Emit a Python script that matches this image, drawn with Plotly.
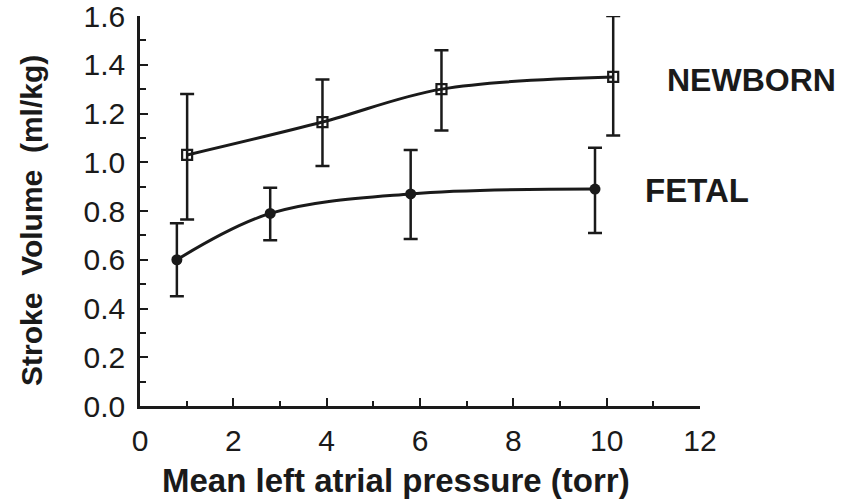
import plotly.graph_objects as go

# Newborn series
newborn_x = [1.01, 3.91, 6.46, 10.14]
newborn_y = [1.03, 1.165, 1.30, 1.35]
newborn_hi = [1.28, 1.34, 1.46, 1.60]
newborn_lo = [0.765, 0.985, 1.13, 1.11]

# Fetal series
fetal_x = [0.79, 2.79, 5.80, 9.75]
fetal_y = [0.60, 0.79, 0.87, 0.89]
fetal_hi = [0.75, 0.895, 1.05, 1.06]
fetal_lo = [0.45, 0.68, 0.685, 0.71]

x_ticks = [0, 2, 4, 6, 8, 10, 12]
y_ticks = [0.0, 0.2, 0.4, 0.6, 0.8, 1.0, 1.2, 1.4, 1.6]
y_tick_text = ["0.0", "0.2", "0.4", "0.6", "0.8", "1.0", "1.2", "1.4", "1.6"]

FONT = "Liberation Sans, Arial, Helvetica, sans-serif"
INK = "#1a1a1a"


def err(y, hi, lo):
    return dict(type="data", symmetric=False,
                array=[h - v for h, v in zip(hi, y)],
                arrayminus=[v - l for v, l in zip(y, lo)],
                color=INK, thickness=2.5, width=7)


fig = go.Figure()
fig.add_trace(go.Scatter(
    x=newborn_x, y=newborn_y, mode="lines+markers", name="NEWBORN",
    line=dict(color=INK, width=3, shape="spline", smoothing=1.0),
    marker=dict(symbol="square-open", size=10, color=INK, line=dict(width=2.2)),
    error_y=err(newborn_y, newborn_hi, newborn_lo), cliponaxis=False,
))
fig.add_trace(go.Scatter(
    x=fetal_x, y=fetal_y, mode="lines+markers", name="FETAL",
    line=dict(color=INK, width=3, shape="spline", smoothing=1.0),
    marker=dict(symbol="circle", size=11, color=INK),
    error_y=err(fetal_y, fetal_hi, fetal_lo), cliponaxis=False,
))

axis_common = dict(
    showline=True, linecolor=INK, linewidth=2.5, showgrid=False,
    zeroline=False, ticks="inside", tickcolor=INK, tickwidth=2,
    tickfont=dict(family=FONT, size=30, color=INK),
    ticklabeloverflow="allow", automargin=False,
)

fig.update_xaxes(range=[0, 12], tickvals=x_ticks, ticklen=8,
                 minor=dict(dtick=1, ticks="inside", ticklen=5, tickwidth=2, tickcolor=INK),
                 ticklabelstandoff=6, **axis_common)
fig.update_yaxes(range=[0, 1.6], tickvals=y_ticks, ticktext=y_tick_text, ticklen=8,
                 minor=dict(dtick=0.1, ticks="inside", ticklen=6, tickwidth=2, tickcolor=INK),
                 ticklabelstandoff=6, **axis_common)

fig.add_annotation(x=11.25, y=1.337, xref="x", yref="y", text="<b>NEWBORN</b>",
                   showarrow=False, xanchor="left", yanchor="middle",
                   font=dict(family=FONT, size=32, color=INK))
fig.add_annotation(x=10.77, y=0.884, xref="x", yref="y", text="<b>FETAL</b>",
                   showarrow=False, xanchor="left", yanchor="middle",
                   font=dict(family=FONT, size=33, color=INK))
fig.add_annotation(x=0.457, y=-0.19, xref="paper", yref="paper",
                   text="<b>Mean left atrial pressure (torr)</b>",
                   showarrow=False, xanchor="center", yanchor="middle",
                   font=dict(family=FONT, size=33, color=INK))
fig.add_annotation(x=-0.193, y=0.477, xref="paper", yref="paper",
                   text="<b>Stroke  Volume  (ml/kg)</b>", textangle=-90,
                   showarrow=False, xanchor="center", yanchor="middle",
                   font=dict(family=FONT, size=30, color=INK))

fig.update_layout(
    width=854, height=500, showlegend=False,
    margin=dict(l=140, r=154, t=16, b=94),
    plot_bgcolor="white", paper_bgcolor="white",
)

fig.write_html("out.html")
